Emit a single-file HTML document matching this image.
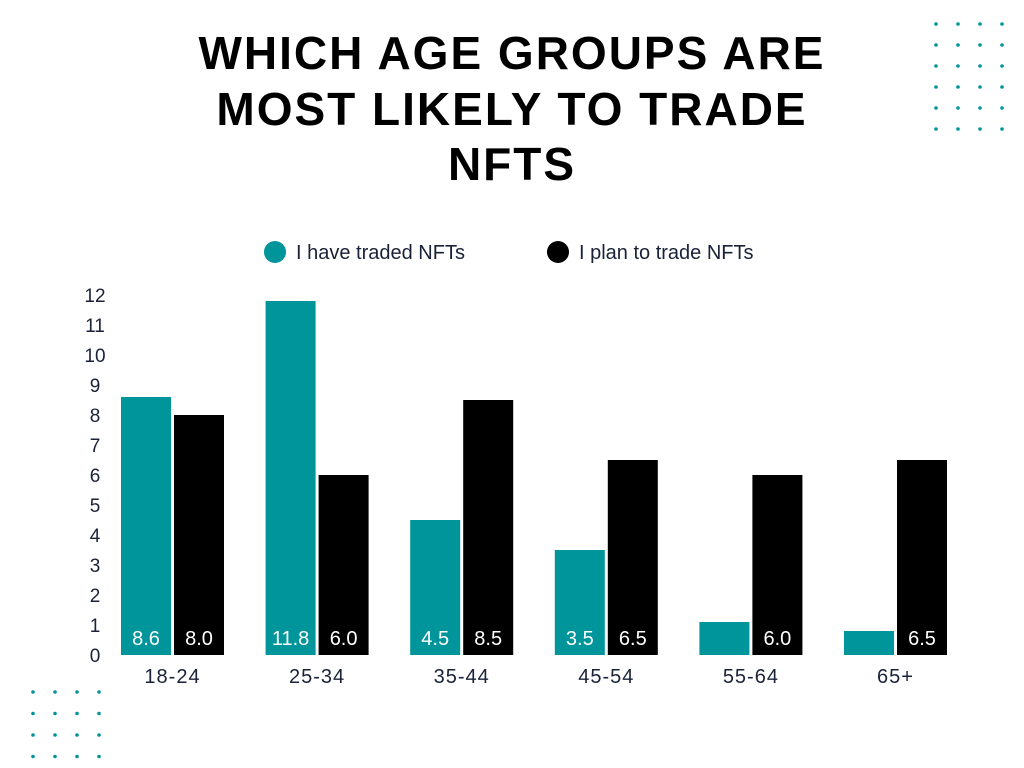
<!DOCTYPE html>
<html><head><meta charset="utf-8"><style>
body{margin:0;background:#fff;}
svg{display:block;font-family:"Liberation Sans",sans-serif;}
</style></head><body>
<svg width="1024" height="768" viewBox="0 0 1024 768">
<g font-weight="bold" font-size="46" text-anchor="middle" fill="#000" letter-spacing="2">
<text x="512" y="69">WHICH AGE GROUPS ARE</text>
<text x="512" y="125">MOST LIKELY TO TRADE</text>
<text x="512" y="180">NFTS</text>
</g>
<g id="dots"></g>
<g font-size="20" fill="#1a2238">
<circle cx="275" cy="252" r="11" fill="#00959a"/>
<text x="296" y="259">I have traded NFTs</text>
<circle cx="558" cy="252" r="11" fill="#000"/>
<text x="579" y="259">I plan to trade NFTs</text>
</g>
<g id="yaxis"></g>
<g id="bars"></g>
<g id="xaxis"></g>
</svg>
<script>
const categories=["18-24","25-34","35-44","45-54","55-64","65+"];
const traded=[8.6,11.8,4.5,3.5,1.1,0.8];
const plan=[8.0,6.0,8.5,6.5,6.0,6.5];
const tradedLabels=["8.6","11.8","4.5","3.5","",""];
const planLabels=["8.0","6.0","8.5","6.5","6.0","6.5"];
const yTicks=[0,1,2,3,4,5,6,7,8,9,10,11,12];
const NS="http://www.w3.org/2000/svg";
const y0=655,yPer=30,x0=121,step=144.6,bw=50,gap=3;
const y=v=>y0-v*yPer;
function mk(t,a,p){const e=document.createElementNS(NS,t);for(const k in a)e.setAttribute(k,a[k]);p.appendChild(e);return e;}
const dots=document.getElementById('dots');
for(let r=0;r<6;r++)for(let c=0;c<4;c++){const d=mk('circle',{cx:936+c*22,cy:24+r*21,r:1.8,fill:'#00959a'},dots);

}
for(let r=0;r<4;r++)for(let c=0;c<4;c++){const d=mk('circle',{cx:33+c*22,cy:692+r*21.5,r:1.8,fill:'#00959a'},dots);

}
const ya=document.getElementById('yaxis');
yTicks.forEach(v=>{const t=mk('text',{x:95,y:y(v)+7,'text-anchor':'middle','font-size':19,fill:'#1a2238'},ya);t.textContent=v;

});
const bars=document.getElementById('bars'),xa=document.getElementById('xaxis');
categories.forEach((c,i)=>{
 const gx=x0+i*step;
 const b1=mk('rect',{x:gx,y:y(traded[i]),width:bw,height:traded[i]*yPer,fill:'#00959a'},bars);
 
 
 const b2=mk('rect',{x:gx+bw+gap,y:y(plan[i]),width:bw,height:plan[i]*yPer,fill:'#000'},bars);
 
 
 if(tradedLabels[i]){const t=mk('text',{x:gx+bw/2,y:645,'text-anchor':'middle','font-size':20,fill:'#fff'},bars);t.textContent=tradedLabels[i];
 
 }
 if(planLabels[i]){const t=mk('text',{x:gx+bw+gap+bw/2,y:645,'text-anchor':'middle','font-size':20,fill:'#fff'},bars);t.textContent=planLabels[i];
 
 }
 const xl=mk('text',{x:gx+bw+gap/2,y:683,'text-anchor':'middle','font-size':20,fill:'#1a2238','letter-spacing':1},xa);xl.textContent=c;
 
 
});
</script>
</body></html>
